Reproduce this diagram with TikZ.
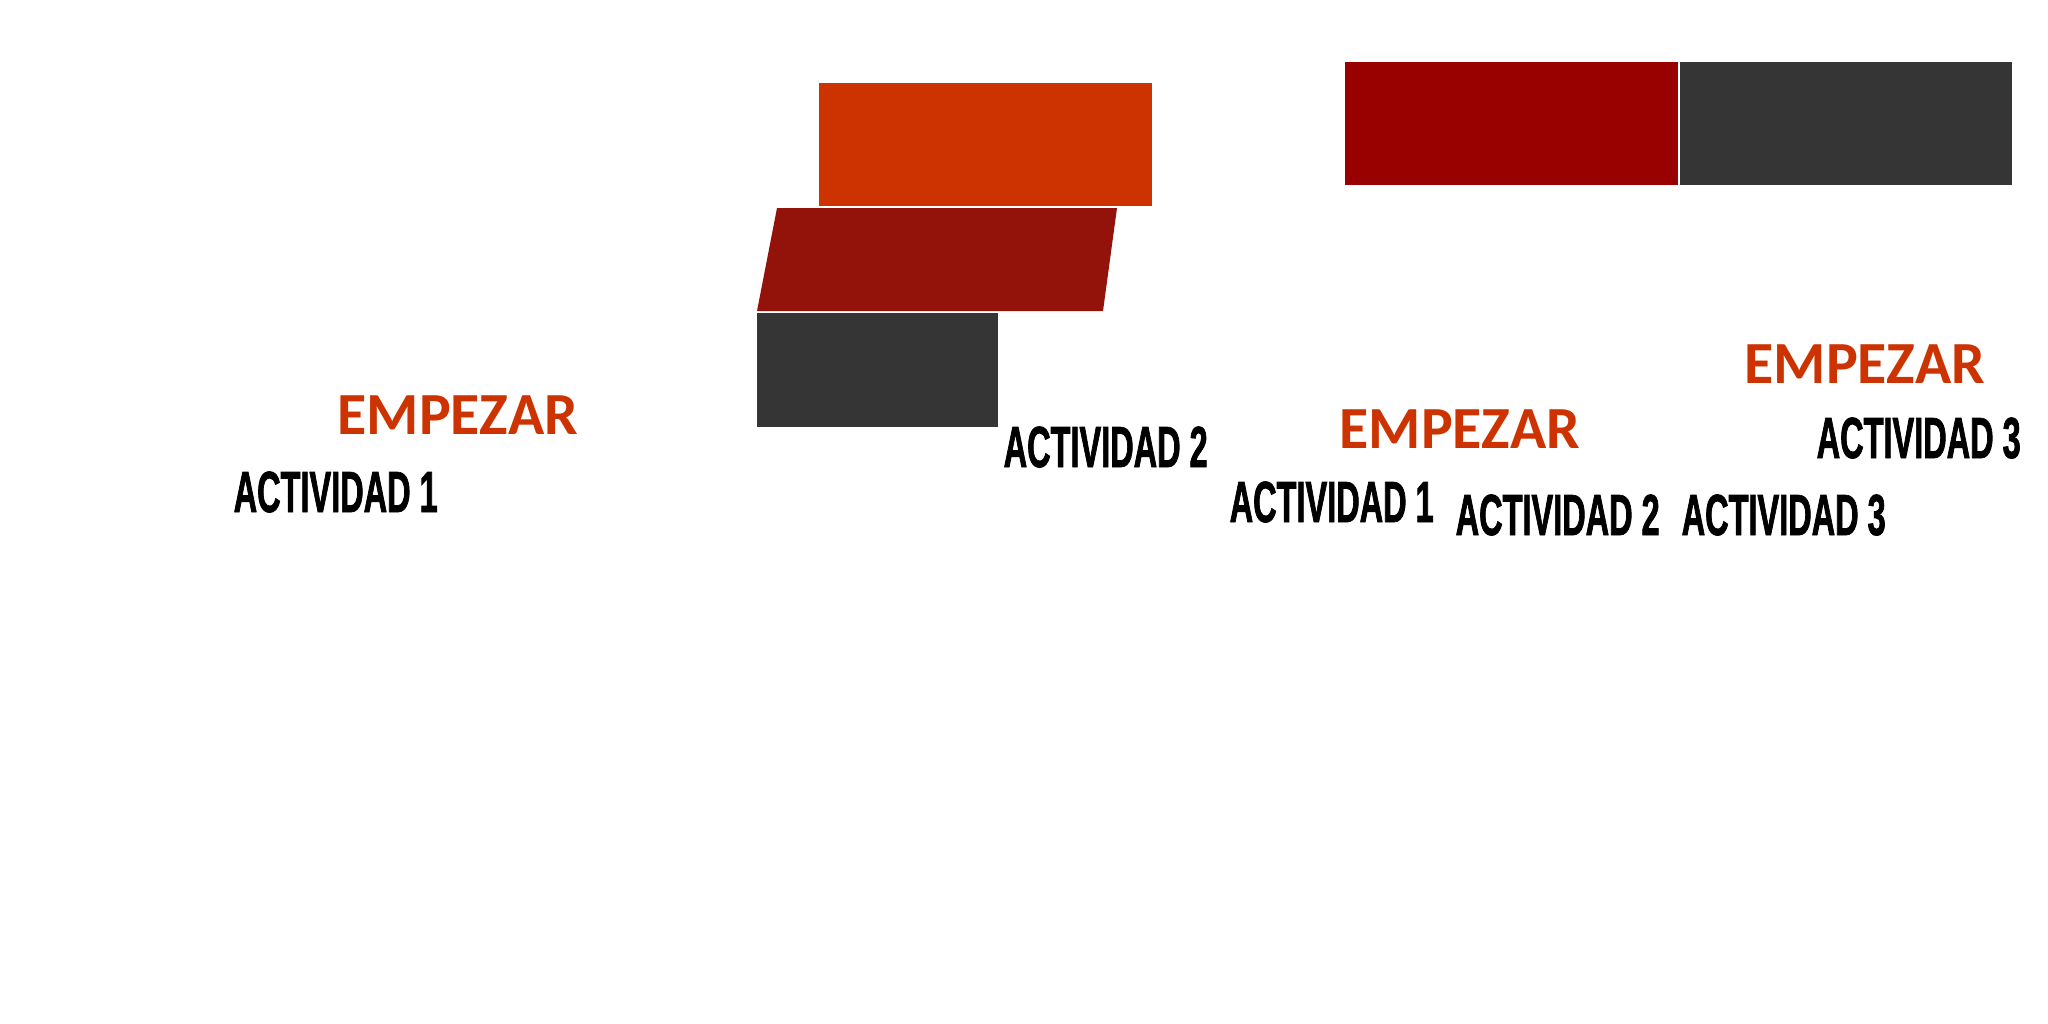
\documentclass[tikz,border=0pt]{standalone}
\usepackage{fontspec}
\usepackage{tikz}
\newfontfamily\empfont{Carlito Bold}
\newfontfamily\actfont[FakeStretch=0.56,FakeBold=1.2]{Liberation Sans Bold}
\definecolor{empred}{HTML}{CC3300}
\definecolor{barorange}{HTML}{CC3300}
\definecolor{barbrick}{HTML}{931209}
\definecolor{bargrey}{HTML}{353535}
\definecolor{barmaroon}{HTML}{990000}

\begin{document}
\begin{tikzpicture}[
  x=0.01cm, y=-0.01cm,
  emp/.style={font=\empfont\fontsize{17}{17}\selectfont, text=empred,
              anchor=base west, inner sep=0pt},
  act/.style={font=\actfont\fontsize{16.5}{16.5}\selectfont,
              anchor=base west, inner sep=0pt},
]
\useasboundingbox (0,0) rectangle (2048,1024);
% stacked bars
\fill[barorange] (819,83) rectangle (1152,206);
\fill[barbrick] (777,208) -- (1117,208) -- (1103,311) -- (757,311) -- cycle;
\fill[bargrey] (757,313) rectangle (998,427);
% top right pair
\fill[barmaroon] (1345,62) rectangle (1678,185);
\fill[bargrey] (1680,62) rectangle (2012,185);
% labels
\node[emp] (e1) at (337,434) {EMPEZAR};
\node[act] (a1) at (233,512) {ACTIVIDAD 1};
\node[act] (a2) at (1003,467) {ACTIVIDAD 2};
\node[emp] (e2) at (1339,448) {EMPEZAR};
\node[act] (b1) at (1229,522) {ACTIVIDAD 1};
\node[act] (b2) at (1455,535) {ACTIVIDAD 2};
\node[act] (b3) at (1681,535) {ACTIVIDAD 3};
\node[emp] (e3) at (1744,383) {EMPEZAR};
\node[act] (c3) at (1816,458) {ACTIVIDAD 3};
\end{tikzpicture}
\end{document}
